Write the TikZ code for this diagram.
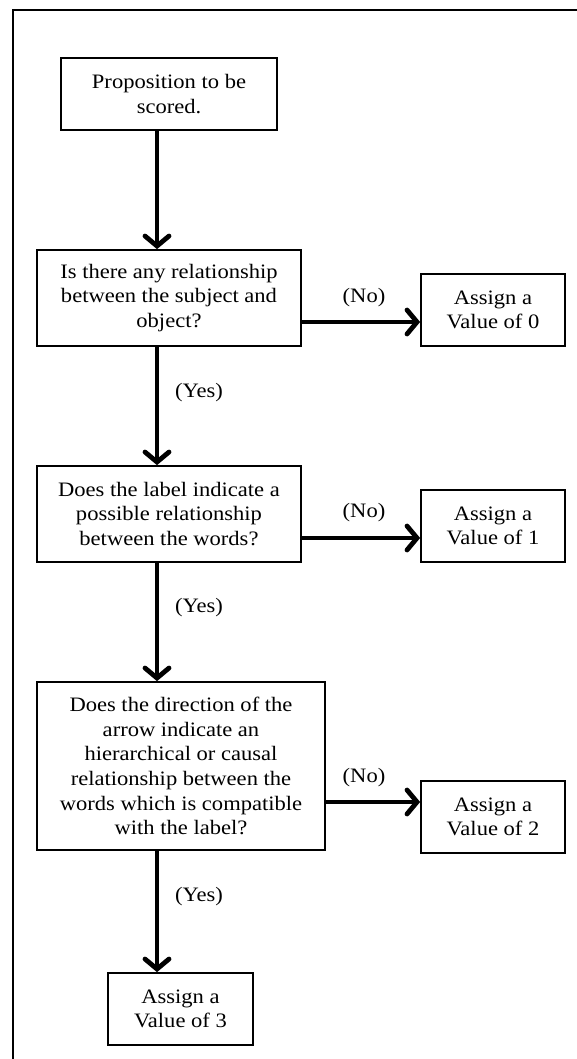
\documentclass[tikz,border=0pt]{standalone}
\usepackage{fontspec}
\setmainfont{Liberation Serif}[FakeStretch=1.1]
\usetikzlibrary{arrows.meta}
\begin{document}
\begin{tikzpicture}[x=1pt,y=-1pt,
  box/.style={draw, line width=1.7pt, align=center, inner sep=0pt,
    font=\fontsize{20.5}{24.7}\selectfont},
  flow/.style={line width=4.8pt, -{Straight Barb[length=10pt,width=24pt,line cap=round]}},
  lbl/.style={font=\fontsize{20.5}{24}\selectfont, inner sep=0pt}]
\useasboundingbox (0,0) rectangle (577,1059);
% page frame (runs off the right and bottom edges)
\begin{scope}
  \clip (0,0) rectangle (577,1059);
  \draw[line width=2pt] (13,1100) -- (13,10) -- (620,10);
\end{scope}

% decision chain
\node[box, minimum width=216pt, minimum height=72pt] (start) at (169,94)
  {Proposition to be\\scored.};
\node[box, minimum width=264pt, minimum height=96pt] (q1) at (169,298)
  {Is there any relationship\\between the subject and\\object?};
\node[box, minimum width=264pt, minimum height=96pt] (q2) at (169,514)
  {Does the label indicate a\\possible relationship\\between the words?};
\node[box, minimum width=288pt, minimum height=168pt] (q3) at (181,766)
  {Does the direction of the\\arrow indicate an\\hierarchical or causal\\relationship between the\\words which is compatible\\with the label?};
\node[box, minimum width=145pt, minimum height=72pt] (v3) at (180.5,1009)
  {Assign a\\Value of 3};

% outcomes
\node[box, minimum width=144pt, minimum height=72pt] (v0) at (493,310)
  {Assign a\\Value of 0};
\node[box, minimum width=144pt, minimum height=72pt] (v1) at (493,526)
  {Assign a\\Value of 1};
\node[box, minimum width=144pt, minimum height=72pt] (v2) at (493,817)
  {Assign a\\Value of 2};

% guide lines for the connectors
\coordinate (spine) at (157,0);
\coordinate (no0) at (0,322);
\coordinate (no1) at (0,538);
\coordinate (no2) at (0,802);

% vertical "yes" path
\draw[flow] (start.south -| spine) -- (q1.north -| spine);
\draw[flow] (q1.south -| spine) -- (q2.north -| spine);
\draw[flow] (q2.south -| spine) -- (q3.north -| spine);
\draw[flow] (q3.south -| spine) -- (v3.north -| spine);

% horizontal "no" branches
\draw[flow] (q1.east |- no0) -- (v0.west |- no0);
\draw[flow] (q2.east |- no1) -- (v1.west |- no1);
\draw[flow] (q3.east |- no2) -- (v2.west |- no2);

% branch labels
\node[lbl] (l0) at (364,298) {(No)};
\node[lbl] (l1) at (364,513) {(No)};
\node[lbl] (l2) at (364,778) {(No)};
\node[lbl] (y0) at (199,393) {(Yes)};
\node[lbl] (y1) at (199,608) {(Yes)};
\node[lbl] (y2) at (199,897) {(Yes)};
\end{tikzpicture}
\end{document}
